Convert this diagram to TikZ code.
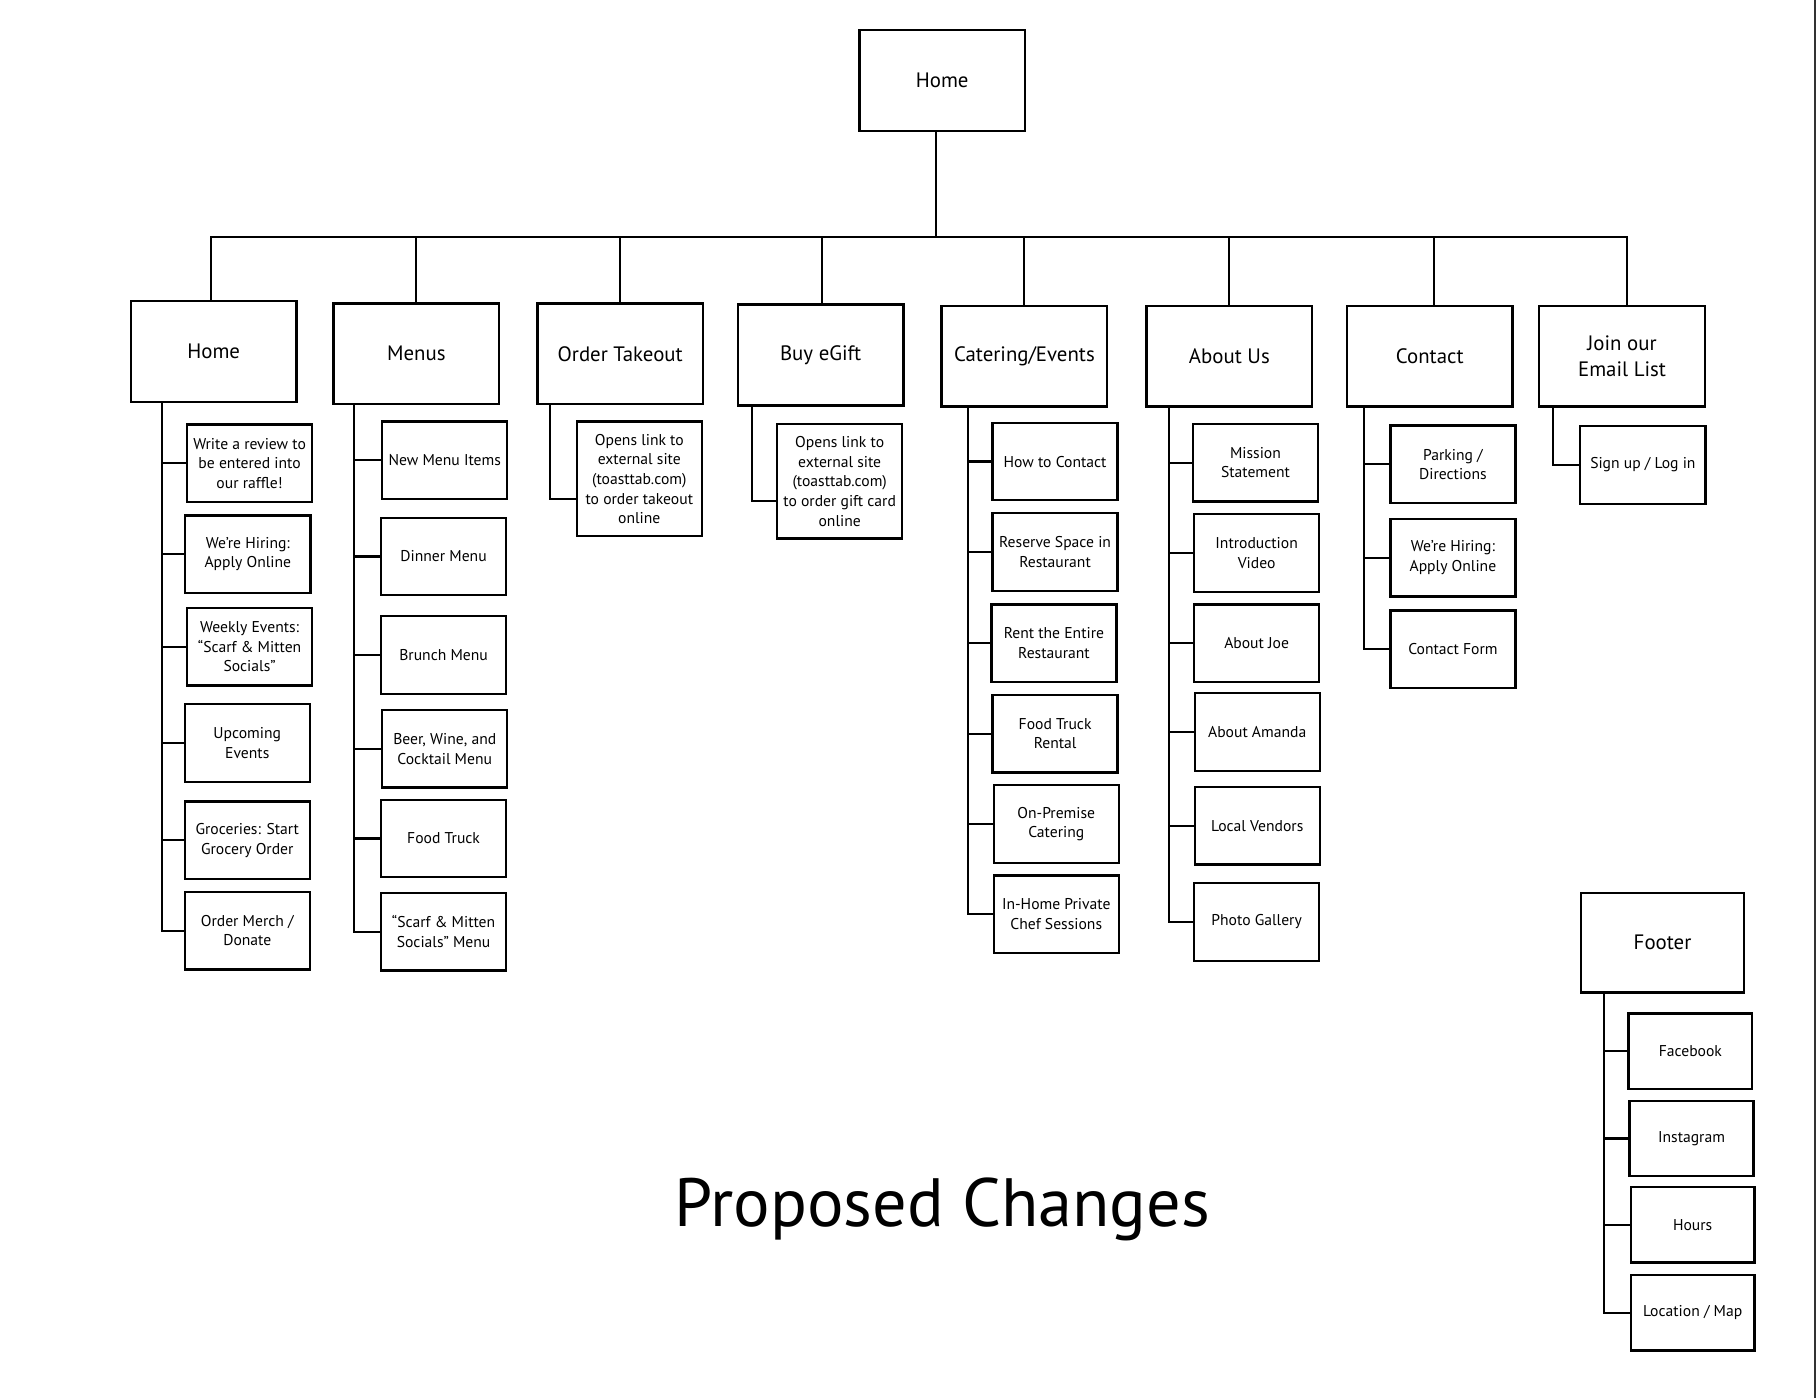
\documentclass[tikz,border=0pt]{standalone}
\usepackage{fontspec}
\setmainfont{PT Sans}
\usepackage{tikz}
\tikzset{page/.style={draw, line width=2pt, inner sep=0, minimum width=143pt, minimum height=87pt, align=center, font=\fontsize{18}{22}\selectfont}}
\tikzset{leaf/.style={draw, line width=2pt, inner sep=0, minimum width=108pt, minimum height=67pt, align=center, font=\fontsize{13.5}{17}\selectfont}}
\tikzset{link/.style={line width=1.8pt, line cap=rect}}

\begin{document}
\begin{tikzpicture}[x=1pt, y=-1pt]
    \useasboundingbox (0,0) rectangle (1568,1207);
    \draw[line width=1.2pt, black!80] (1567,0) -- (1567,1207);

    \node[page] at (813.5, 69.5) (top) {Home};
    \coordinate (bus) at (808, 205);

    % main pages
    \node[page] at (184.5, 303.5) (home) {Home};
    \node[page] at (359.5, 305.5) (menus) {Menus};
    \node[page] at (535.5, 305.5) (takeout) {Order Takeout};
    \node[page] at (708.5, 306.5) (egift) {Buy eGift};
    \node[page] at (884.5, 307.5) (catering) {Catering/Events};
    \node[page] at (1061.5, 307.5) (about) {About Us};
    \node[page] at (1234.5, 307.5) (contact) {Contact};
    \node[page] at (1400.5, 307.5) (email) {Join our\\Email List};
    \node[page, minimum width=141pt, minimum height=86pt] at (1435.5, 814) (footer) {Footer};

    \coordinate (homedrop) at ([xshift=-2.5pt]home.north);
    \coordinate (egiftdrop) at ([xshift=1.5pt]egift.north);
    \coordinate (contactdrop) at ([xshift=3.5pt]contact.north);
    \coordinate (emaildrop) at ([xshift=4.5pt]email.north);

    \draw[link] (top.south -| bus) -- (bus);
    \draw[link] (homedrop |- bus) -- (emaildrop |- bus);
    \draw[link] (homedrop) -- (homedrop |- bus);
    \draw[link] (menus.north) -- (menus.north |- bus);
    \draw[link] (takeout.north) -- (takeout.north |- bus);
    \draw[link] (egiftdrop) -- (egiftdrop |- bus);
    \draw[link] (catering.north) -- (catering.north |- bus);
    \draw[link] (about.north) -- (about.north |- bus);
    \draw[link] (contactdrop) -- (contactdrop |- bus);
    \draw[link] (emaildrop) -- (emaildrop |- bus);

    % home
    \node[leaf] at (215.5, 400) (h1) {Write a review to\\be entered into\\our raffle!};
    \node[leaf] at (214, 478.5) (h2) {We’re Hiring:\\Apply Online};
    \node[leaf] at (215.5, 558.5) (h3) {Weekly Events:\\“Scarf \& Mitten\\Socials”};
    \node[leaf] at (213.5, 641.5) (h4) {Upcoming\\Events};
    \node[leaf] at (213.5, 725.5) (h5) {Groceries: Start\\Grocery Order};
    \node[leaf] at (213.5, 803.5) (h6) {Order Merch /\\Donate};
    \coordinate (ht) at ([xshift=28pt]home.south west);
    \draw[link] (ht) |- (h6.west);
    \draw[link] (h1.west -| ht) -- (h1.west);
    \draw[link] (h2.west -| ht) -- (h2.west);
    \draw[link] (h3.west -| ht) -- (h3.west);
    \draw[link] (h4.west -| ht) -- (h4.west);
    \draw[link] (h5.west -| ht) -- (h5.west);

    % menus
    \node[leaf] at (384, 397.5) (m1) {New Menu Items};
    \node[leaf] at (383, 480.5) (m2) {Dinner Menu};
    \node[leaf] at (383, 565.5) (m3) {Brunch Menu};
    \node[leaf] at (384, 646.5) (m4) {Beer, Wine, and\\Cocktail Menu};
    \node[leaf] at (383, 724) (m5) {Food Truck};
    \node[leaf] at (383, 804.5) (m6) {“Scarf \& Mitten\\Socials” Menu};
    \coordinate (mt) at ([xshift=19pt]menus.south west);
    \draw[link] (mt) |- (m6.west);
    \draw[link] (m1.west -| mt) -- (m1.west);
    \draw[link] (m2.west -| mt) -- (m2.west);
    \draw[link] (m3.west -| mt) -- (m3.west);
    \draw[link] (m4.west -| mt) -- (m4.west);
    \draw[link] (m5.west -| mt) -- (m5.west);

    % order takeout, egift
    \node[leaf, minimum height=99pt] at (552, 413.5) (t1) {Opens link to\\external site\\(toasttab.com)\\to order takeout\\online};
    \draw[link] ([xshift=12pt]takeout.south west) |- ([yshift=-17pt]t1.west);
    \node[leaf, minimum height=99pt] at (725, 415.5) (g1) {Opens link to\\external site\\(toasttab.com)\\to order gift card\\online};
    \draw[link] ([xshift=13pt]egift.south west) |- ([yshift=-17pt]g1.west);

    % catering
    \node[leaf] at (911, 398.5) (c1) {How to Contact};
    \node[leaf] at (911, 476.5) (c2) {Reserve Space in\\Restaurant};
    \node[leaf] at (910, 555.5) (c3) {Rent the Entire\\Restaurant};
    \node[leaf] at (911, 633.5) (c4) {Food Truck\\Rental};
    \node[leaf] at (912, 711.5) (c5) {On-Premise\\Catering};
    \node[leaf] at (912, 789.5) (c6) {In-Home Private\\Chef Sessions};
    \coordinate (ct) at ([xshift=24pt]catering.south west);
    \draw[link] (ct) |- (c6.west);
    \draw[link] (c1.west -| ct) -- (c1.west);
    \draw[link] (c2.west -| ct) -- (c2.west);
    \draw[link] (c3.west -| ct) -- (c3.west);
    \draw[link] (c4.west -| ct) -- (c4.west);
    \draw[link] (c5.west -| ct) -- (c5.west);

    % about us
    \node[leaf] at (1084, 399.5) (a1) {Mission\\Statement};
    \node[leaf] at (1085, 477.5) (a2) {Introduction\\Video};
    \node[leaf] at (1085, 555.5) (a3) {About Joe};
    \node[leaf] at (1085.5, 632) (a4) {About Amanda};
    \node[leaf] at (1085.5, 713) (a5) {Local Vendors};
    \node[leaf] at (1085, 796) (a6) {Photo Gallery};
    \coordinate (at) at ([xshift=20pt]about.south west);
    \draw[link] (at) |- (a6.west);
    \draw[link] (a1.west -| at) -- (a1.west);
    \draw[link] (a2.west -| at) -- (a2.west);
    \draw[link] (a3.west -| at) -- (a3.west);
    \draw[link] (a4.west -| at) -- (a4.west);
    \draw[link] (a5.west -| at) -- (a5.west);

    % contact
    \node[leaf] at (1254.5, 401) (k1) {Parking /\\Directions};
    \node[leaf] at (1254.5, 481.5) (k2) {We’re Hiring:\\Apply Online};
    \node[leaf] at (1254.5, 560.5) (k3) {Contact Form};
    \coordinate (kt) at ([xshift=16pt]contact.south west);
    \draw[link] (kt) |- (k3.west);
    \draw[link] (k1.west -| kt) -- (k1.west);
    \draw[link] (k2.west -| kt) -- (k2.west);

    % email list
    \node[leaf] at (1418.5, 401.5) (e1) {Sign up / Log in};
    \draw[link] ([xshift=13pt]email.south west) |- (e1.west);

    % footer
    \node[leaf, minimum width=107pt, minimum height=65pt] at (1459.5, 907.5) (f1) {Facebook};
    \node[leaf, minimum width=107pt, minimum height=65pt] at (1460.5, 983) (f2) {Instagram};
    \node[leaf, minimum width=107pt, minimum height=65pt] at (1461.5, 1057.5) (f3) {Hours};
    \node[leaf, minimum width=107pt, minimum height=65pt] at (1461.5, 1133.5) (f4) {Location / Map};
    \coordinate (ft) at ([xshift=21pt]footer.south west);
    \draw[link] (ft) |- (f4.west);
    \draw[link] (f1.west -| ft) -- (f1.west);
    \draw[link] (f2.west -| ft) -- (f2.west);
    \draw[link] (f3.west -| ft) -- (f3.west);

    \node[font=\fontsize{59}{65}\selectfont] at (813.5, 1044) (title) {Proposed Changes};
\end{tikzpicture}
\end{document}
